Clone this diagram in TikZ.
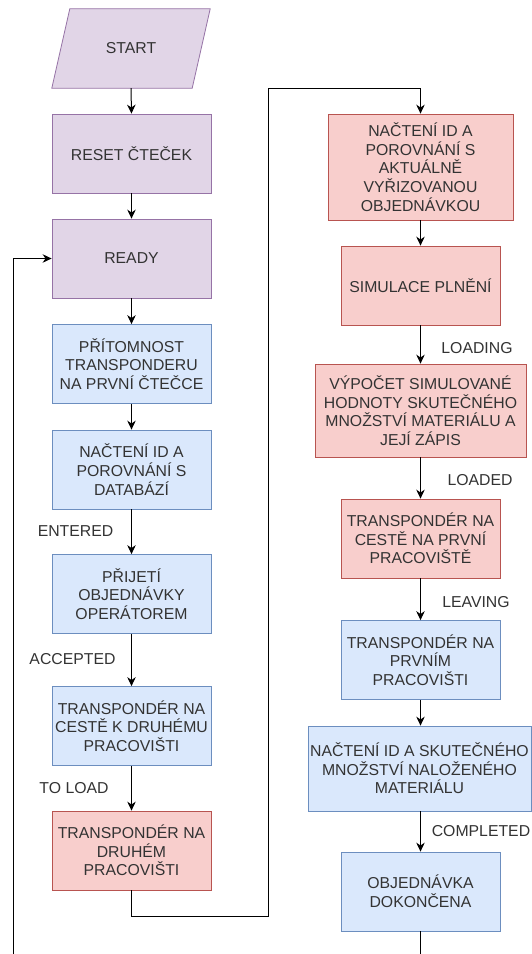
\documentclass[tikz,border=0pt]{standalone}
\usepackage{fontspec}
\setmainfont{Liberation Sans}
\usetikzlibrary{arrows.meta}
\definecolor{pfill}{HTML}{E1D5E7}
\definecolor{pline}{HTML}{9673A6}
\definecolor{bfill}{HTML}{DAE8FC}
\definecolor{bline}{HTML}{6C8EBF}
\definecolor{rfill}{HTML}{F8CECC}
\definecolor{rline}{HTML}{B85450}
\definecolor{txt}{HTML}{333333}
\begin{document}
\begin{tikzpicture}[x=1pt,y=-1pt,
  tfont/.style={font=\fontsize{15.8}{18.6}\selectfont},
  box/.style={tfont, draw, line width=0.8pt, minimum width=159pt, minimum height=79pt,
    align=center, inner xsep=0pt, inner ysep=2pt, text=txt},
  pbox/.style={box, fill=pfill, draw=pline},
  bbox/.style={box, fill=bfill, draw=bline},
  rbox/.style={box, fill=rfill, draw=rline},
  lbl/.style={tfont, text=txt, inner sep=0pt},
  arr/.style={-{Stealth[length=9pt,width=8.5pt]}, line width=1pt, draw=black},
  conn/.style={line width=1pt, draw=black}]
\useasboundingbox (0,0) rectangle (531,954);
\fill[white] (0,0) rectangle (531,954);

% START parallelogram
\node[minimum width=158pt, minimum height=79pt, inner sep=0pt] (start) at (131,48.5) {};
\filldraw[fill=pfill, draw=pline, line width=0.8pt]
  ([xshift=18pt]start.north west) -- (start.north east)
  -- ([xshift=-18pt]start.south east) -- (start.south west) -- cycle;
\node[lbl] (starttxt) at (start.center) {START};

% left column
\node[pbox] (reset) at (131.5,153.5) {RESET ČTEČEK};
\node[pbox] (ready) at (131.5,258.5) {READY};
\node[bbox] (pres) at (131.5,364) {PŘÍTOMNOST\\TRANSPONDERU\\NA PRVNÍ ČTEČCE};
\node[bbox] (load1) at (131.5,469.5) {NAČTENÍ ID A\\POROVNÁNÍ S\\DATABÁZÍ};
\node[bbox] (accept) at (131.5,594) {PŘIJETÍ\\OBJEDNÁVKY\\OPERÁTOREM};
\node[bbox] (travel) at (131.5,726) {TRANSPONDÉR NA\\CESTĚ K DRUHÉMU\\PRACOVIŠTI};
\node[rbox] (second) at (131.5,850.5) {TRANSPONDÉR NA\\DRUHÉM\\PRACOVIŠTI};

% right column
\node[rbox, minimum width=185pt, minimum height=106pt] (check) at (420.5,167)
  {NAČTENÍ ID A\\POROVNÁNÍ S\\AKTUÁLNĚ\\VYŘIZOVANOU\\OBJEDNÁVKOU};
\node[rbox] (sim) at (420.5,285.5) {SIMULACE PLNĚNÍ};
\node[rbox, minimum width=211pt, minimum height=93pt] (calc) at (420.5,410.5)
  {VÝPOČET SIMULOVANÉ\\HODNOTY SKUTEČNÉHO\\MNOŽSTVÍ MATERIÁLU A\\JEJÍ ZÁPIS};
\node[rbox] (back) at (420.5,538.5) {TRANSPONDÉR NA\\CESTĚ NA PRVNÍ\\PRACOVIŠTĚ};
\node[bbox] (first) at (420.5,660) {TRANSPONDÉR NA\\PRVNÍM\\PRACOVIŠTI};
\node[bbox, minimum width=223pt, minimum height=85pt] (read) at (419.5,768.5)
  {NAČTENÍ ID A SKUTEČNÉHO\\MNOŽSTVÍ NALOŽENÉHO\\MATERIÁLU};
\node[bbox] (done) at (420.5,891.5) {OBJEDNÁVKA\\DOKONČENA};

% labels
\node[lbl] (lentered) at (75.5,531) {ENTERED};
\node[lbl] (laccepted) at (72.5,659) {ACCEPTED};
\node[lbl] (ltoload) at (74,788.5) {TO LOAD};
\node[lbl] (lloading) at (477,348) {LOADING};
\node[lbl] (lloaded) at (480,480) {LOADED};
\node[lbl] (lleaving) at (476,602) {LEAVING};
\node[lbl] (lcompleted) at (481,831) {COMPLETED};

% free ends
\coordinate (loopbot) at (13,954);
\coordinate (donebot) at (420.5,954);

% connectors
\draw[arr] (start.south) -- (reset.north);
\draw[arr] (reset) -- (ready);
\draw[arr] (ready) -- (pres);
\draw[arr] (pres) -- (load1);
\draw[arr] (load1) -- (accept);
\draw[arr] (accept) -- (travel);
\draw[arr] (travel) -- (second);
\draw[arr] (second.south) -- ++(0,26) -| (268,88) -| (check.north);
\draw[arr] (check) -- (sim);
\draw[arr] (sim) -- (calc);
\draw[arr] (calc) -- (back);
\draw[arr] (back) -- (first);
\draw[arr] (first.south) -- (first.south |- read.north);
\draw[arr] (read.south -| done.north) -- (done.north);
\draw[conn] (done.south) -- (donebot);
\draw[arr] (loopbot) |- (ready.west);
\end{tikzpicture}
\end{document}
